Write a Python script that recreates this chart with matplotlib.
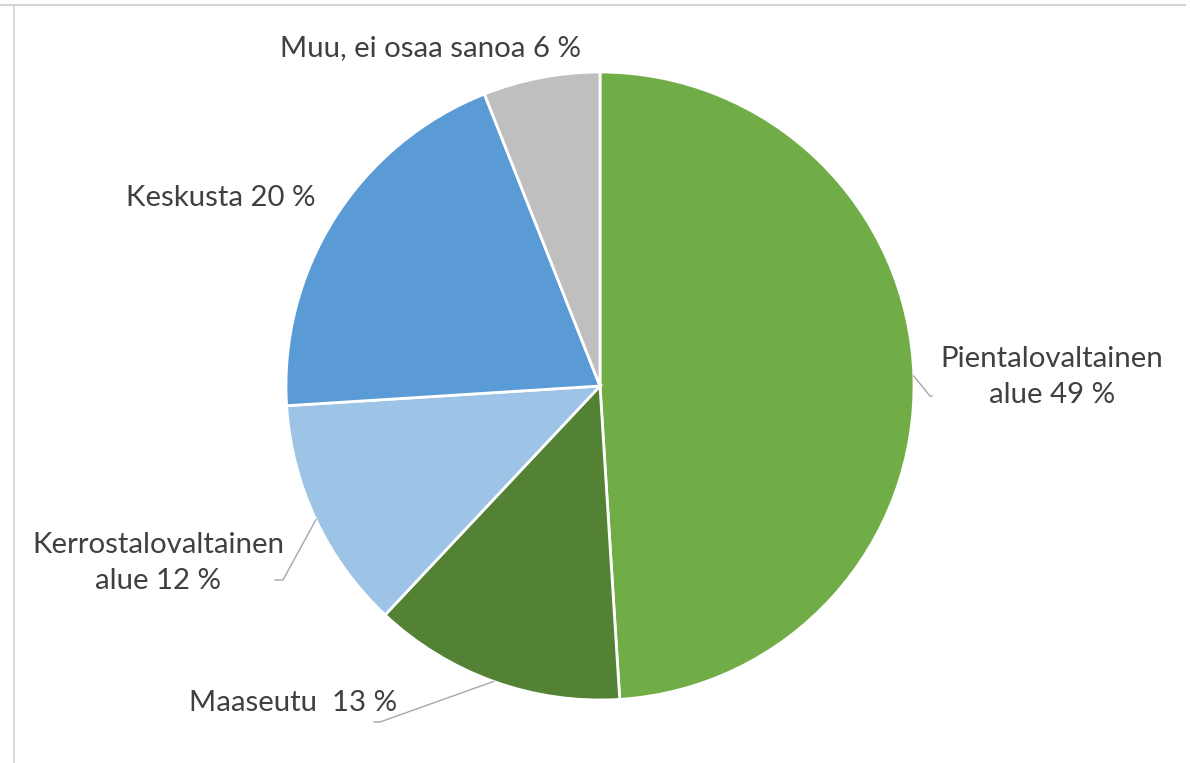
import numpy as np
import matplotlib.pyplot as plt
from matplotlib.lines import Line2D

# data
labels = ['Pientalovaltainen\nalue 49 %', 'Maaseutu  13 %', 'Kerrostalovaltainen\nalue 12 %',
          'Keskusta 20 %', 'Muu, ei osaa sanoa 6 %']
values = [49, 13, 12, 20, 6]
colors = ['#70AD47', '#548235', '#9DC3E6', '#5B9BD5', '#BFBFBF']

W, H = 1190, 763
plt.rcParams['font.family'] = ['Lato', 'DejaVu Sans']

fig = plt.figure(figsize=(W / 100, H / 100), dpi=100)
ax = fig.add_axes([0, 0, 1, 1])

cx, cy, r = 600, H - 386, 314
wedges, _ = ax.pie(values, colors=colors, startangle=90, counterclock=False,
                   center=(cx, cy), radius=r, frame=True,
                   wedgeprops=dict(edgecolor='white', linewidth=2))
ax.set_xlim(0, W)
ax.set_ylim(0, H)
ax.axis('off')

# label placement (pixel coords from top-left), leader elbow or None
label_pos = [(1052, 377), (293, 703), (158, 563), (221, 198), (431, 48)]
elbows = [[(930, 396), (932, 396)], [(380, 722), (374, 722)],
          [(283, 580), (275, 580)], None, None]

txt_color = '#404040'
for w, lab, (lx, ly), el in zip(wedges, labels, label_pos, elbows):
    ax.text(lx, H - ly, lab, ha='center', va='center', fontsize=21.2,
            color=txt_color, linespacing=1.45)
    if el is not None:
        mid = np.deg2rad((w.theta1 + w.theta2) / 2)
        sx, sy = cx + r * np.cos(mid), cy + r * np.sin(mid)
        xs = [sx] + [p[0] for p in el]
        ys = [sy] + [H - p[1] for p in el]
        ax.plot(xs, ys, color='#a6a6a6', lw=1)

# frame lines of the screenshot
fig.add_artist(Line2D([0, 1185 / W], [1 - 5 / H, 1 - 5 / H], color='#d4d4d4', lw=1.5,
                      transform=fig.transFigure))
fig.add_artist(Line2D([14 / W, 14 / W], [0, 1 - 5 / H], color='#d4d4d4', lw=1.2,
                      transform=fig.transFigure))

fig.savefig('out.png', dpi=100, facecolor='white')
